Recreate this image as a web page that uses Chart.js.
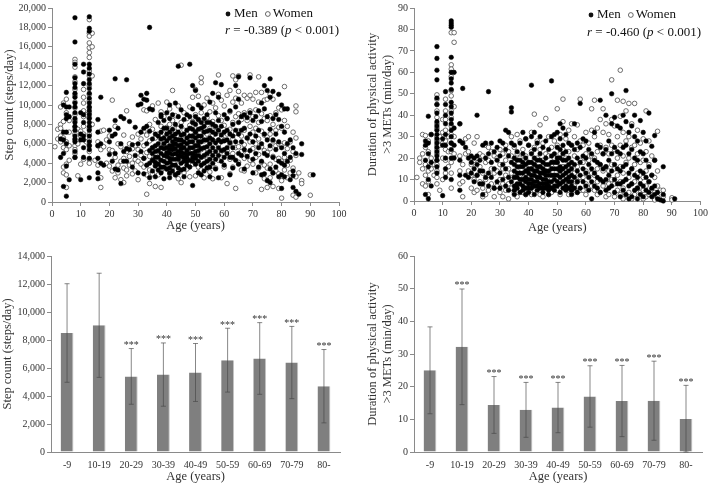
<!DOCTYPE html>
<html>
<head>
<meta charset="utf-8">
<script src="https://cdn.jsdelivr.net/npm/chart.js@4.4.0/dist/chart.umd.min.js"></script>
<style>
  html, body { margin: 0; padding: 0; background: #fff; }
  #fig { position: relative; width: 710px; height: 484px; overflow: hidden; background: #fff; }
  #fig canvas { position: absolute; }
</style>
</head>
<body>
<div id="fig">
  <canvas id="stepScatter" width="355" height="240" style="left:0;top:0;width:355px;height:240px"></canvas>
  <canvas id="paScatter" width="355" height="240" style="left:355px;top:0;width:355px;height:240px"></canvas>
  <canvas id="stepBars" width="355" height="244" style="left:0;top:240px;width:355px;height:244px"></canvas>
  <canvas id="paBars" width="355" height="244" style="left:355px;top:240px;width:355px;height:244px"></canvas>
</div>
<script>
// ---- scatter data: [age, [values at that age]] ----
const stepMen = [
  [3,[6500,4600]], [4,[10000,7200,6400,5000,1600]], [5,[11300,9800,9000,8600,7200,6000,3700,600]],
  [6,[9800,8800,2300]],
  [8,[19000,16500,14200,12800,12200,11800,11200,10800,10200,9800,9200,8600,8200,7800,7400,6800,6500,6200,5200,4600]],
  [10,[9200,7000,6400,2300]], [11,[14200,13400,12200,9000,8200,6800,6400,5600,4600]],
  [13,[19100,17900,17600,14200,13800,13200,12600,12200,11700,11200,10700,10200,9800,9400,9000,8600,8200,7800,7400,6800,6200,5800,5400,4500,2500]],
  [16,[8500,7200,5800,4500,3000,2400]], [17,[10800,6000,4000]], [18,[3800]],
  [20,[7400,6200,4900]], [21,[6800,4200]], [22,[12700,8400,7000,5000,3400]], [23,[7600,3300]],
  [24,[8800,6000,1900]], [25,[8600,5200,4200]], [26,[12600,5500,4200]], [27,[8300,5400]],
  [28,[5900,3600]], [29,[7700,4800]], [30,[10000,6000,3000]], [31,[11000,10100,7200,5200]],
  [32,[10600,7600,4500,2900]], [33,[11200,10500,7800,6000,3800]], [34,[18000,9600,7300,5300,4000,2500]],
  [35,[9500,6500,5600,5000,4300,3200]], [36,[7000,5800,5200,4600,4100,3700,2600]],
  [37,[8200,6800,6000,5300,4600,3900,3300]], [38,[9000,8800,7200,6500,5600,5000,4300,3600,3000]],
  [39,[8400,7600,6600,6000,5500,4800,4200,3600,2400]], [40,[9200,7600,7000,6300,5600,5100,4700,4000,3400]],
  [41,[10000,8600,7200,6600,5800,5400,5000,4500,4100,3500,3000,2500]],
  [42,[9000,7500,6800,6200,5800,5400,4900,4400,3800,3200]], [43,[10200,8000,7000,6500,6000,5500,5000,4400,3800,2800]],
  [44,[14000,8800,7200,6400,5800,5200,4800,4400,3500,3000]], [45,[9500,7800,6900,6400,5900,5500,5100,4700,4000,3300]],
  [46,[8500,7000,6200,5600,5000,4600,4200,3400,2600]], [47,[9000,7400,6600,6000,5300,4900,4600,4200,3800]],
  [48,[14200,8800,7600,6800,6200,5600,5000,4300,3600]], [49,[12000,9600,8200,7500,6800,6200,5600,5000,4600,4200,1700]],
  [50,[11500,8800,8000,7200,6600,5800,5200,4800,4500,3900]], [51,[10000,8500,7500,6800,6200,5800,5300,4800,4200,3000]],
  [52,[9700,8200,7600,6800,6200,5500,4600,3800,2800]], [53,[8600,7800,7200,6400,5600,4800,4000,3200]],
  [54,[9000,8200,7300,6400,5700,5000,4200,3500]], [55,[10300,8200,7400,6600,6000,5200,4400,3600,2600]],
  [56,[11200,8000,7200,6400,5600,4800,4000]], [57,[12300,9200,7800,7000,6100,5200,4400,3400]],
  [58,[10800,8400,7400,6400,5600,4800,2500]], [59,[12100,7800,6900,6200,5300,4200]], [60,[9000,7200,6300,5400,4600,3800]],
  [61,[8600,7400,6400,5600,5000]], [62,[9400,7000,6100,4600,2800]], [63,[8000,6800,5600,4600,3500]],
  [64,[12000,9800,7400,6200,4300]], [65,[12900,10600,8200,7000,5000,3900]], [66,[8800,7400,6200,4800]],
  [67,[9000,7600,5400,3400]], [68,[8700,6600,4700]], [69,[12800,9200,7000,5300]],
  [70,[8400,6200,4400,3000]], [71,[8800,6800,5000]], [72,[9400,7400,5600,3600]],
  [73,[10200,8300,6000,4200,2800]], [74,[12000,9600,7000,5000,2900]], [75,[11500,8800,6400,4800,2200]],
  [76,[12700,10800,7500,5800,3400,2000]], [77,[11400,8600,6400,4600,3000]], [78,[9000,7000,5400,3600]],
  [79,[11100,8500,6200,4200,2600]], [80,[10000,7800,5600,4000,2800,1400]], [81,[9600,7200,5000,3800,2600]],
  [82,[9600,6000,4200]], [83,[6400,4600,2300]], [84,[5600,3200,2700,1500]], [85,[5000,1100]],
  [86,[800]], [87,[6000,4900]], [91,[2800]]
];
const stepWomen = [
  [1,[5700]], [2,[7500,6500]], [3,[9800,8000,7600,6800,6200]], [4,[10200,8300,6600,5600,3600,3000]],
  [5,[10600,9200,6200,5400,3900,2800,1500]], [6,[8400,7200,5800,4300]],
  [8,[14700,14400,13900,12900,12400,11600,11000,10300,9700,9000,8400,7700,7000,6400,5800,5400,5000,4600]],
  [9,[7500,6000,2700]], [10,[7300,6800,3900]], [11,[11600,10800,10200,9400,8800,7800,7000,4400]],
  [12,[9000,6200]],
  [13,[18800,17400,17100,16400,15900,15400,14900,13500,13000,12000,11100,10400,9700,9200,8700,7600,7000,6400,5800,5200,4400,4000]],
  [14,[17400,16000,13000,8000]], [15,[4300]], [16,[6200,5800,3800]], [17,[7300,5400,2500,1500]],
  [18,[7400,5700]], [19,[6400,4000]], [20,[6800,5400,3700]], [21,[10500,5300,3200]],
  [22,[7800,4600,2500]], [23,[6000,3800,3000]], [24,[5700,4200,2300]], [25,[6900,4500,3500,2000]],
  [26,[9400,5200,3300,2700]], [27,[6000,4700,3800]], [28,[6700,5500,4000,2900]], [29,[5800,4400,3200]],
  [30,[7000,5400,4200,2300]], [31,[6500,4800,3900]], [32,[9500,7300,5800,4500,3600]],
  [33,[9400,6900,5100,2800,800]], [34,[8000,6300,4700,3300,1900]], [35,[9900,7500,5600,4300,2900]],
  [36,[8500,6600,5000,3800,1600]], [37,[10200,7000,5500,4000,2800]], [38,[9300,7800,6400,4700,3200,1500]],
  [39,[8800,7100,5900,4400,3500]], [40,[10300,7700,6100,4900,3400]], [41,[9600,8000,6600,5200,4000,2900]],
  [42,[11500,8400,6900,5500,3600]], [43,[8900,7200,6000,4600,2800]], [44,[9900,7600,6300,4800,3900,2400]],
  [45,[14100,8200,6700,5300,4100,2000]], [46,[9200,7400,6000,4500,3000]], [47,[8600,7000,5700,4300,3400]],
  [48,[9800,7900,6400,5100,2600]], [49,[10800,8300,6800,5400,3900]], [50,[11600,9000,7200,5800,4300,2700]],
  [51,[10900,8500,6600,5000,3600]], [52,[12800,12300,9200,7500,5400,3300]], [53,[10000,8100,6300,4700,2500]],
  [54,[10700,8700,7000,5500,4000]], [55,[9300,7600,6100,4600,3100]], [56,[10200,8300,6900,5200,3700,2400]],
  [57,[9700,7700,6200,4800,3500]], [58,[13100,11100,8900,7300,5900,4300]], [59,[10500,8400,6600,5000,2500]],
  [60,[9900,7900,6400,4900,3600]], [61,[11000,8600,7000,5300,1900]], [62,[11500,9300,7500,6000,4400,2900]],
  [63,[13000,10300,8200,6500,5000,3600]], [64,[12600,10700,8800,7100,5600,1400]],
  [65,[13000,11400,9100,7300,5700,4100]], [66,[10200,8500,6800,5200,3300]], [67,[11000,9200,7400,5900,4500,3200]],
  [68,[10700,8400,6600,5000,3700]], [69,[13100,11000,9400,7800,6200,4300,2100]], [70,[10600,8800,7200,5500,3900]],
  [71,[11300,9500,7600,6000,4600,3000]], [72,[12900,10300,8200,6500,4900,3500]], [73,[11300,9100,7300,5700,4100,1300]],
  [74,[10500,8600,6900,5300,3800,2400]], [75,[10600,8400,6700,5100,3500,1500]], [76,[11100,8900,7000,5500,3900,2500]],
  [77,[10600,8000,6300,4700,3000,1600]], [78,[9200,7400,5800,4400,3200]], [79,[9700,7700,6000,4500,2900,1400]],
  [80,[9500,7600,5800,4200,2200,400]], [81,[11900,8400,6100,4600,3300]], [82,[7800,5500,3800,2500]],
  [83,[6200,4300,3000]], [84,[7200,5200,3500,700]], [85,[9900,9300,6600,4800,2600,500]], [86,[3000]],
  [87,[2200,1900]], [90,[2800,700]]
];
const paMen = [
  [4,[28,26,19,3]], [5,[39.5,27,22,16,10,1]], [6,[31,18,7]],
  [8,[72,66.5,61,56.5,48,45,41,37,35,33,31,29,27,25,23,21,19,16,13]],
  [10,[29,26,2.5]], [11,[51,45,40,36,31,26,20,15,11]],
  [13,[84,83,82,81,67,60,57,55,52,46,44,41,38,36,33,30,27,24,20,10]],
  [14,[60,34,26,20]], [16,[36,28,19,12,5]], [17,[52.5,27]], [18,[25,12]], [19,[20,11]],
  [20,[21,18,13]], [21,[20,15,9]], [22,[40,21,17,12]], [23,[19,14,8]], [24,[26,14,8,3]],
  [25,[27,20,11]], [26,[51,22,13,7]], [27,[27,18,11]], [28,[23,15,6]], [29,[25,19,9]],
  [30,[28,21,13,6]], [31,[27,17,10]], [32,[33,24,15,7]], [33,[32,21,11,5]], [34,[43.5,41.5,27,18,9]],
  [35,[26,20,17,14,11,7,5,3]], [36,[23,19,16,13,11,8,6]], [37,[27,19,16,13,10,8,4]],
  [38,[32,22,18,16,13,10,7,5]], [39,[29,20,17,14,11,9,6,3]], [40,[26,18,15,13,10,8,6,4]],
  [41,[54,30,22,18,15,12,10,8,6]], [42,[32,24,20,17,14,12,9,7,3]], [43,[27,19,16,14,11,9,7,5]],
  [44,[30,22,19,16,13,11,8,6]], [45,[25,18,15,13,10,8,6,4]], [46,[28,20,17,14,12,10,8,6]],
  [47,[24,17,14,12,9,7,5,3]], [48,[56,30,21,18,15,12,9,6]], [49,[31,22,18,15,12,10,7,5]],
  [50,[32,25,20,18,15,12,9,7]], [51,[36,29,24,20,16,14,11,8,4]], [52,[34,26,22,19,15,12,9,6]],
  [53,[31,23,19,16,13,10,7,5]], [54,[27,20,17,14,11,9,6]], [55,[26,18,15,12,9,7,5,3]],
  [56,[36,24,17,11,6]], [57,[27,20,14,9,4]], [58,[45.5,25,18,12,6]], [59,[29,21,15,9]],
  [60,[28,20,13,7]], [61,[24,17,11,5]], [62,[22,15,9,1]], [63,[32,19,13,7]], [64,[26,18,11,6]],
  [65,[47,25,17,10,4]], [66,[22,15,9]], [67,[40,24,16,10,5]], [68,[28,19,12,6]], [69,[50,36,22,14,7]],
  [70,[39,25,17,10,4]], [71,[35,23,15,8]], [72,[34,22,14,8,2]], [73,[40,25,16,9,5]],
  [74,[51.5,37,26,17,10,3]], [75,[32,22,13,7,1]], [76,[35,24,15,8,2]], [77,[40,30,20,12,5]],
  [78,[28,19,11,6,1]], [79,[37.5,23,14,8,3]], [80,[32,22,13,7,2]], [81,[28,19,11,5]],
  [82,[41,16,9,4]], [83,[25.5,12,6,2]], [84,[30.5,19,7,3]], [85,[4,1]], [86,[0.5]],
  [87,[16,3,0]], [91,[1]]
];
const paWomen = [
  [1,[11]], [2,[20,18]], [3,[31,22,15,8]], [4,[30.5,25,17,12,7]], [5,[28,23,14,9,3]], [6,[31,20,15]],
  [7,[17,12]], [8,[49.5,47.5,45,42,39,36,34,30,28,26,24,22,19,17,14,11,8]], [9,[30,26,5]],
  [10,[38,32,27,20,10]], [11,[47.5,42,38,33,28,24,19,13]], [12,[30,23,16]],
  [13,[78.5,63.5,61.5,58,51.5,49,42,39,35,31,27,23,18,13,6]], [14,[78.5,74,44,30,22]],
  [16,[36,21,14,8]], [17,[27,17,9,2]], [18,[29,22]], [19,[30,23,14]], [20,[17,12,6]],
  [21,[27,19,10,4]], [22,[30,20,12,5]], [23,[22,16,9]], [24,[21,13,6,2]], [25,[26,18,10,3]],
  [26,[25,19,12,5]], [27,[23,15,8]], [28,[21,13,6,2]], [29,[20,14,7]], [30,[24,17,10,4]],
  [31,[22,15,8,2]], [32,[26,19,12,5]], [33,[23,15,8,1]], [34,[30,21,13,6]], [35,[25,18,11,4]],
  [36,[31,22,14,7,2]], [37,[28,20,12,6]], [38,[24,17,10,4]], [39,[29,21,14,8,3]], [40,[26,18,11,5]],
  [41,[32,23,15,9,3]], [42,[40.5,25,17,10,5]], [43,[28,20,12,6]], [44,[35.5,24,16,9,3]],
  [45,[27,19,12,6,2]], [46,[38.5,22,14,8]], [47,[30,21,13,7,3]], [48,[25,17,10,4]], [49,[28,20,12,6]],
  [50,[43,26,18,11,5]], [51,[31,22,14,8,3]], [52,[47.5,37,24,16,9]], [53,[29,20,12,6]],
  [54,[33,23,15,8,3]], [55,[36,26,17,10,4]], [56,[30,21,13,7]], [57,[35.5,24,16,9,4]],
  [58,[47.5,28,19,11,5]], [59,[26,18,11,5]], [60,[32,22,14,8,3]], [61,[27,19,12,6]],
  [62,[43,33,21,13,7]], [63,[47,30,20,12,5]], [64,[34,23,15,9,3]], [65,[38,26,17,10,4]],
  [66,[43,32,22,14,7]], [67,[36,25,16,9,2]], [68,[31,22,14,8,3]], [69,[56.5,38,26,17,10]],
  [70,[35,24,15,8,2]], [71,[47,30,20,12,5]], [72,[61,39.5,26,16,9,3]], [73,[46.5,32,21,13,6,1]],
  [74,[42,28,18,10,3]], [75,[45.5,30,20,11,4]], [76,[36,25,15,8,1]], [77,[45.5,26,17,9,3]],
  [78,[33,22,13,6]], [79,[27,18,10,4]], [80,[29,19,11,5,1]], [81,[42,23,14,7,2]], [82,[28,17,9,3]],
  [83,[21,12,5]], [84,[19,11,4,0.5]], [85,[32.5,14,7,2]], [86,[5]], [87,[5,2]], [90,[1.5,0.5]]
];

// ---- bar data ----
const ageGroups = ['-9', '10-19', '20-29', '30-39', '40-49', '50-59', '60-69', '70-79', '80-'];
const stepMean = [8500, 9050, 5400, 5530, 5680, 6560, 6680, 6390, 4700];
const stepSD = [3520, 3720, 1990, 2260, 2070, 2280, 2560, 2580, 2620];
const stepStars = ['', '', '***', '***', '***', '***', '***', '***', '***'];
const paMean = [25, 32.2, 14.4, 12.9, 13.6, 17.0, 15.6, 15.7, 10.1];
const paSD = [13.3, 17.7, 8.7, 8.4, 7.7, 9.4, 10.9, 12.1, 10.3];
const paStars = ['', '***', '***', '***', '***', '***', '***', '***', '***'];

const serif = '"Liberation Serif", "Times New Roman", serif';
Chart.defaults.font.family = serif;
Chart.defaults.color = '#333';
Chart.defaults.animation = false;

const axisGrey = '#8a8a8a';
const tickFont = { family: serif, size: 10 };
const titleFont = { family: serif, size: 12.5 };

function toPoints(groups) {
    return groups.flatMap(([age, vals]) => vals.map(v => ({ x: age, y: v })));
}

function fmtComma(v) {
    return Number(v).toLocaleString('en-US');
}

// legend + correlation text drawn on the scatter panels
const notePlugin = {
    id: 'note',
    afterDraw(chart, args, opts) {
        if (!opts || !opts.r) return;
        const ctx = chart.ctx;
        ctx.save();
        ctx.fillStyle = '#111';
        ctx.textBaseline = 'middle';
        ctx.font = '13px ' + serif;
        // legend row
        let x = opts.x;
        ctx.beginPath();
        ctx.arc(x, opts.y1, 2.4, 0, Math.PI * 2);
        ctx.fill();
        x += 6;
        ctx.fillText('Men', x, opts.y1);
        x += ctx.measureText('Men').width + 10;
        ctx.beginPath();
        ctx.arc(x, opts.y1, 2.4, 0, Math.PI * 2);
        ctx.strokeStyle = '#444';
        ctx.lineWidth = 0.8;
        ctx.stroke();
        x += 5;
        ctx.fillText('Women', x, opts.y1);
        // r line
        const parts = [['r', true], [' = ' + opts.r + ' (', false], ['p', true], [' < 0.001)', false]];
        x = opts.rx;
        parts.forEach(([t, ital]) => {
            ctx.font = (ital ? 'italic ' : '') + '13px ' + serif;
            ctx.fillText(t, x, opts.y2);
            x += ctx.measureText(t).width;
        });
        ctx.restore();
    }
};

// error bars and significance marks on the bar panels
const errorBarPlugin = {
    id: 'errorBars',
    afterDatasetsDraw(chart, args, opts) {
        if (!opts || !opts.sd) return;
        const ctx = chart.ctx;
        const yScale = chart.scales.y;
        const meta = chart.getDatasetMeta(0);
        const means = chart.data.datasets[0].data;
        ctx.save();
        meta.data.forEach((bar, i) => {
            const top = yScale.getPixelForValue(means[i] + opts.sd[i]);
            const bot = yScale.getPixelForValue(Math.max(0, means[i] - opts.sd[i]));
            ctx.strokeStyle = 'rgba(70,70,70,0.65)';
            ctx.lineWidth = 1;
            ctx.beginPath();
            ctx.moveTo(bar.x, top);
            ctx.lineTo(bar.x, bot);
            ctx.moveTo(bar.x - 2.5, top);
            ctx.lineTo(bar.x + 2.5, top);
            ctx.moveTo(bar.x - 2.5, bot);
            ctx.lineTo(bar.x + 2.5, bot);
            ctx.stroke();
            if (opts.stars[i]) {
                ctx.fillStyle = '#333';
                ctx.font = '10px ' + serif;
                ctx.textAlign = 'center';
                ctx.textBaseline = 'alphabetic';
                ctx.fillText(opts.stars[i], bar.x, top - 0.5);
            }
        });
        ctx.restore();
    }
};

function axisCommon() {
    return {
        grid: { display: true, drawOnChartArea: false, drawTicks: true, tickLength: 4, color: axisGrey },
        border: { display: true, color: axisGrey, width: 1 },
        ticks: { color: '#333', font: tickFont, padding: 2 }
    };
}

function makeScatter(id, men, women, yMax, yStep, yTitle, frame, note, yFmt) {
    const xAxis = axisCommon();
    const yAxis = axisCommon();
    return new Chart(document.getElementById(id), {
        type: 'scatter',
        data: {
            datasets: [
                {
                    label: 'Men', data: toPoints(men), order: 0,
                    pointRadius: 2.3, pointHoverRadius: 2.3,
                    backgroundColor: '#000', borderColor: '#000', borderWidth: 0.5
                },
                {
                    label: 'Women', data: toPoints(women), order: 1,
                    pointRadius: 2.3, pointHoverRadius: 2.3,
                    backgroundColor: '#fff', borderColor: '#4a4a4a', borderWidth: 0.8
                }
            ]
        },
        options: {
            responsive: false,
            clip: false,
            layout: { padding: { top: frame.padTop, right: frame.padRight, left: 0, bottom: 0 } },
            plugins: { legend: { display: false }, tooltip: { enabled: false }, note: note },
            scales: {
                x: Object.assign(xAxis, {
                    type: 'linear', min: 0, max: 100,
                    ticks: Object.assign(xAxis.ticks, { stepSize: 10 }),
                    title: { display: true, text: 'Age (years)', color: '#333', font: titleFont,
                             padding: { top: 0, bottom: frame.xTitlePad } },
                    afterFit: s => { s.height = frame.axisH; }
                }),
                y: Object.assign(yAxis, {
                    min: 0, max: yMax,
                    ticks: Object.assign(yAxis.ticks, { stepSize: yStep, callback: yFmt }),
                    title: { display: true, text: yTitle, color: '#333', font: titleFont,
                             padding: { top: frame.yTitlePad, bottom: 0 } },
                    afterFit: s => { s.width = frame.axisW; }
                })
            }
        },
        plugins: [notePlugin]
    });
}

function makeBars(id, means, sds, stars, yMax, yStep, yTitle, frame, yFmt) {
    const yAxis = axisCommon();
    return new Chart(document.getElementById(id), {
        type: 'bar',
        data: {
            labels: ageGroups,
            datasets: [{
                data: means,
                backgroundColor: '#7f7f7f',
                borderColor: '#c4c4c4',
                borderWidth: { top: 0, left: 0, right: 1, bottom: 0 },
                barPercentage: 0.8,
                categoryPercentage: 0.5
            }]
        },
        options: {
            responsive: false,
            layout: { padding: { top: frame.padTop, right: frame.padRight, left: 0, bottom: 0 } },
            plugins: { legend: { display: false }, tooltip: { enabled: false },
                       errorBars: { sd: sds, stars: stars } },
            scales: {
                x: {
                    grid: { display: false, drawTicks: false, tickLength: 0 },
                    border: { display: true, color: axisGrey, width: 1 },
                    ticks: { color: '#333', font: tickFont, padding: 7 },
                    title: { display: true, text: 'Age (years)', color: '#333', font: titleFont,
                             padding: { top: 0, bottom: 0 } },
                    afterFit: s => { s.height = frame.axisH; }
                },
                y: Object.assign(yAxis, {
                    min: 0, max: yMax,
                    ticks: Object.assign(yAxis.ticks, { stepSize: yStep, callback: yFmt }),
                    title: { display: true, text: yTitle, color: '#333', font: titleFont,
                             padding: { top: frame.yTitlePad, bottom: 0 } },
                    afterFit: s => { s.width = frame.axisW; }
                })
            }
        },
        plugins: [errorBarPlugin]
    });
}

const paTitle = ['Duration of physical activity', '>3 METs (min/day)'];

makeScatter('stepScatter', stepMen, stepWomen, 20000, 2000, 'Step count (steps/day)',
    { axisW: 52, axisH: 38, padTop: 4, padRight: 16, yTitlePad: 2, xTitlePad: 7 },
    { x: 228, y1: 14, rx: 225, y2: 31, r: '-0.389' }, fmtComma);

makeScatter('paScatter', paMen, paWomen, 90, 10, paTitle,
    { axisW: 59, axisH: 39, padTop: 4, padRight: 8, yTitlePad: 10, xTitlePad: 5 },
    { x: 236, y1: 15, rx: 232, y2: 33, r: '-0.460' }, v => v);

makeBars('stepBars', stepMean, stepSD, stepStars, 14000, 2000, 'Step count (steps/day)',
    { axisW: 51, axisH: 32, padTop: 16, padRight: 15, yTitlePad: 0 }, fmtComma);

makeBars('paBars', paMean, paSD, paStars, 60, 10, paTitle,
    { axisW: 59, axisH: 32, padTop: 16, padRight: 8, yTitlePad: 10 }, v => v);
</script>
</body>
</html>
